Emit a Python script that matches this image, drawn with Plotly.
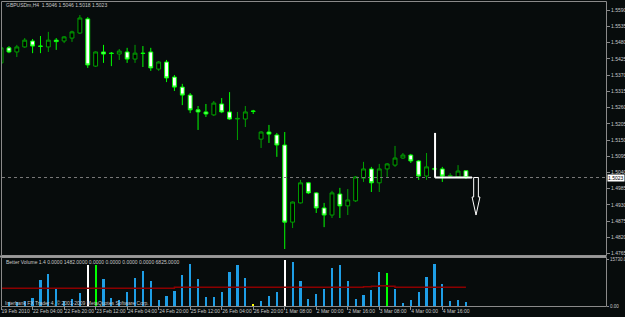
import plotly.graph_objects as go

# ---------------- data ----------------
bars = list(range(60))
opens = [1.5411, 1.5462, 1.5448, 1.5465, 1.5485, 1.5468, 1.5465, 1.5488, 1.5485, 1.5495,
         1.5512, 1.5560, 1.5400, 1.5448, 1.5444, 1.5441, 1.5448, 1.5424, 1.5444, 1.5448,
         1.5390, 1.5414, 1.5363, 1.5329, 1.5302, 1.5252, 1.5245, 1.5235, 1.5272, 1.5245,
         1.5221, 1.5221, 1.5248, 1.5153, 1.5177, 1.5167, 1.5133, 1.4872, 1.4937, 1.5005,
         1.4971, 1.4920, 1.4896, 1.4967, 1.4927, 1.4944, 1.5021, 1.5052, 1.5005, 1.5052,
         1.5065, 1.5089, 1.5099, 1.5079, 1.5028, 1.5052, 1.5052, 1.5028, 1.5025, 1.5046]
highs = [1.5472, 1.5468, 1.5472, 1.5495, 1.5492, 1.5502, 1.5516, 1.5495, 1.5502, 1.5520,
         1.5573, 1.5566, 1.5450, 1.5472, 1.5448, 1.5458, 1.5462, 1.5472, 1.5468, 1.5462,
         1.5417, 1.5421, 1.5370, 1.5340, 1.5309, 1.5265, 1.5272, 1.5282, 1.5292, 1.5312,
         1.5245, 1.5265, 1.5252, 1.5180, 1.5201, 1.5174, 1.5177, 1.4942, 1.5015, 1.5008,
         1.4974, 1.4937, 1.4978, 1.4988, 1.4984, 1.5028, 1.5076, 1.5059, 1.5069, 1.5072,
         1.5130, 1.5106, 1.5103, 1.5082, 1.5106, 1.5059, 1.5059, 1.5038, 1.5065, 1.5046]
lows = [1.5404, 1.5444, 1.5431, 1.5462, 1.5444, 1.5444, 1.5448, 1.5455, 1.5478, 1.5482,
        1.5509, 1.5394, 1.5397, 1.5411, 1.5400, 1.5421, 1.5411, 1.5411, 1.5397, 1.5384,
        1.5384, 1.5346, 1.5316, 1.5268, 1.5241, 1.5184, 1.5228, 1.5231, 1.5241, 1.5218,
        1.5150, 1.5194, 1.5238, 1.5123, 1.5140, 1.5093, 1.4781, 1.4852, 1.4935, 1.4967,
        1.4903, 1.4855, 1.4886, 1.4886, 1.4896, 1.4940, 1.5008, 1.4974, 1.4974, 1.5025,
        1.5059, 1.5086, 1.5072, 1.5015, 1.5015, 1.5045, 1.5008, 1.5025, 1.5021, 1.5018]
closes = [1.5462, 1.5448, 1.5465, 1.5488, 1.5468, 1.5467, 1.5488, 1.5483, 1.5499, 1.5516,
          1.5563, 1.5404, 1.5448, 1.5441, 1.5443, 1.5451, 1.5424, 1.5444, 1.5443, 1.5394,
          1.5414, 1.5360, 1.5329, 1.5302, 1.5252, 1.5245, 1.5238, 1.5275, 1.5245, 1.5221,
          1.5223, 1.5245, 1.5247, 1.5177, 1.5170, 1.5133, 1.4872, 1.4940, 1.5005, 1.4971,
          1.4920, 1.4896, 1.4971, 1.4927, 1.4947, 1.5025, 1.5052, 1.5005, 1.5052, 1.5069,
          1.5089, 1.5099, 1.5079, 1.5028, 1.5059, 1.5052, 1.5028, 1.5030, 1.5045, 1.5023]
volumes = [8892, 1500, 1482, 1600, 2850, 8892, 10944, 6042, 1710, 2394,
           4332, 14022, 14022, 9234, 2622, 2052, 4674, 9462, 11970, 8322,
           2052, 3534, 5130, 10602, 14250, 9234, 2964, 3192, 4674, 11514,
           13794, 9462, 684, 1710, 3306, 4674, 15730, 14934, 8550, 2394,
           3990, 5814, 12882, 13794, 8322, 2394, 3762, 5472, 11514, 11172,
           5700, 1140, 2052, 4674, 9690, 14250, 7410, 1710, 2052, 1482]
vol_kind = ["n"] * 60
vol_kind[11] = "climax"
vol_kind[36] = "climax"
vol_kind[12] = "churn"
vol_kind[49] = "churn"
vol_kind[32] = "low"
vol_ma = [6042, 6042, 6042, 6042, 6042, 6042, 6042, 6042, 6042, 6042,
          6042, 6042, 6042, 6042, 6042, 6042, 6042, 6042, 6042, 6042,
          6042, 6042, 6384, 6384, 6384, 6384, 6384, 6384, 6384, 6384,
          6384, 6384, 6384, 6384, 6384, 6384, 6384, 6384, 6384, 6384,
          6384, 6384, 6384, 6384, 6384, 6384, 6500, 6700, 6840, 6700,
          6384, 6384, 6384, 6384, 6384, 6384, 6384, 6384, 6384, 6384]
tick_bars = [0, 4, 8, 12, 16, 20, 24, 28, 32, 36, 40, 44, 48, 52, 56]
tick_labels = ["19 Feb 2010", "22 Feb 04:00", "22 Feb 20:00", "23 Feb 12:00", "24 Feb 04:00",
               "24 Feb 20:00", "25 Feb 12:00", "26 Feb 04:00", "26 Feb 20:00", "1 Mar 08:00",
               "2 Mar 00:00", "2 Mar 16:00", "3 Mar 08:00", "4 Mar 00:00", "4 Mar 16:00"]
price_ticks = [1.5590, 1.5535, 1.5480, 1.5425, 1.5370, 1.5315, 1.5260, 1.5205,
               1.5150, 1.5095, 1.5040, 1.4985, 1.4930, 1.4875, 1.4820, 1.4765]
last_price = 1.5023
vol_max_label = 15730.0
# drawn objects (user drawing on the chart)
mark_top = 1.5174
mark_bar = 55.08
mark_end_bar = 59.77
arrow_bar = 60.28
arrow_neck = 1.4957
arrow_tip = 1.4896

# ---------------- style ----------------
W, H = 625, 317
BG = "#070c0c"
GRID = "#8a8a8a"
TXT = "#c8c8c8"
FONT = "Liberation Sans"
vcol = {"n": "#1e9ee6", "climax": "#ffffff", "churn": "#00ff00", "low": "#ffff00"}

def py(p):  # pixel row -> paper
    return 1 - p / H

def px(p):
    return p / W

fig = go.Figure()

fig.add_trace(go.Candlestick(
    x=bars, open=opens, high=highs, low=lows, close=closes,
    increasing=dict(line=dict(color="#00a000", width=1), fillcolor="#000000"),
    decreasing=dict(line=dict(color="#00ff00", width=1), fillcolor="#ffffff"),
    whiskerwidth=0, xaxis="x", yaxis="y", showlegend=False, hoverinfo="skip"))

fig.add_trace(go.Bar(
    x=bars, y=volumes, marker=dict(color=[vcol[k] for k in vol_kind], line=dict(width=0)),
    width=0.28, xaxis="x2", yaxis="y2", showlegend=False, hoverinfo="skip"))

fig.add_trace(go.Scatter(
    x=bars, y=vol_ma, mode="lines", line=dict(color="#8b0000", width=1.5, shape="hv"),
    xaxis="x2", yaxis="y2", showlegend=False, hoverinfo="skip"))

bar_px = 7.88
x_range = [-0.01, (606 - 1) / bar_px]
p_top = 1.56239 - 0.0003385 * 1
p_bot = 1.56239 - 0.0003385 * 255

fig.update_layout(
    width=W, height=H, margin=dict(l=0, r=0, t=0, b=0, autoexpand=False),
    paper_bgcolor=BG, plot_bgcolor=BG,
    font=dict(family=FONT, size=5, color=TXT),
    bargap=0,
    xaxis=dict(domain=[px(1), px(606)], range=x_range, showticklabels=False, showgrid=False,
               zeroline=False, rangeslider=dict(visible=False), fixedrange=True, anchor="y",
               automargin=False),
    yaxis=dict(domain=[py(255), py(1)], range=[p_bot, p_top], side="right",
               tickvals=price_ticks, ticktext=[f"{v:.4f}" for v in price_ticks],
               ticks="outside", ticklen=3, tickcolor=GRID, showgrid=False, zeroline=False,
               tickfont=dict(size=5, color=TXT), anchor="x", automargin=False),
    xaxis2=dict(domain=[px(1), px(606)], range=x_range, showgrid=False, zeroline=False,
                tickvals=tick_bars, ticktext=tick_labels, ticks="outside", ticklen=3,
                tickcolor=GRID, ticklabelposition="outside right", tickangle=0,
                tickfont=dict(size=5, color=TXT), anchor="y2", automargin=False),
    yaxis2=dict(domain=[py(306), py(258)], range=[0, 16237], side="right",
                tickvals=[vol_max_label, 0], ticktext=[f"{vol_max_label:.1f}", "0.00"],
                ticks="outside", ticklen=2, tickcolor=GRID, showgrid=False, zeroline=False,
                tickfont=dict(size=4.5, color=TXT), anchor="x2", automargin=False),
)

shapes = []
# panel frames
shapes.append(dict(type="rect", xref="paper", yref="paper", x0=px(1.5), x1=px(606.5),
                   y0=py(255.5), y1=py(1.5), line=dict(color=GRID, width=1)))
shapes.append(dict(type="rect", xref="paper", yref="paper", x0=px(1.5), x1=px(606.5),
                   y0=py(306.5), y1=py(257.5), line=dict(color=GRID, width=1)))
shapes.append(dict(type="line", xref="paper", yref="paper", x0=0, x1=px(606.5),
                   y0=py(256.5), y1=py(256.5), line=dict(color="#9a9a9a", width=2)))
# current price line
shapes.append(dict(type="line", xref="paper", yref="y", x0=px(2), x1=px(606),
                   y0=last_price, y1=last_price, line=dict(color="#7a7a7a", width=1, dash="dot")))
# drawn L-shape
shapes.append(dict(type="line", xref="x", yref="y", x0=mark_bar, x1=mark_bar,
                   y0=mark_top, y1=last_price, line=dict(color="#ffffff", width=2)))
shapes.append(dict(type="line", xref="x", yref="y", x0=mark_bar, x1=mark_end_bar,
                   y0=last_price, y1=last_price, line=dict(color="#ffffff", width=2)))
# drawn down arrow (outline)
sw = 0.3
hw = 0.5
path = (f"M {arrow_bar - sw},{last_price} L {arrow_bar - sw},{arrow_neck} "
        f"L {arrow_bar - hw},{arrow_neck} L {arrow_bar},{arrow_tip} "
        f"L {arrow_bar + hw},{arrow_neck} L {arrow_bar + sw},{arrow_neck} "
        f"L {arrow_bar + sw},{last_price} Z")
shapes.append(dict(type="path", xref="x", yref="y", path=path,
                   line=dict(color="#ffffff", width=1), fillcolor=BG))
fig.update_layout(shapes=shapes)

ann = []
ann.append(dict(xref="paper", yref="paper", x=px(4), y=py(5), xanchor="left", yanchor="middle",
                text="GBPUSDm,H4  1.5046 1.5046 1.5018 1.5023", showarrow=False,
                font=dict(size=5, color=TXT)))
ann.append(dict(xref="paper", yref="paper", x=px(4), y=py(261.5), xanchor="left", yanchor="middle",
                text="Better Volume 1.4 0.0000 1482.0000 0.0000 0.0000 0.0000 0.0000 6825.0000",
                showarrow=False, font=dict(size=5, color=TXT)))
ann.append(dict(xref="paper", yref="paper", x=px(3), y=py(303), xanchor="left", yanchor="middle",
                text="Interbank FX Trader 4, \u00a9 2001-2009 MetaQuotes Software Corp.",
                showarrow=False, font=dict(size=5, color=TXT)))
ann.append(dict(xref="paper", yref="y", x=px(607), y=last_price, xanchor="left", yanchor="middle",
                text=f"{last_price:.4f}", showarrow=False, bgcolor="#ffffff",
                font=dict(size=5, color="#000000"), borderpad=0))
fig.update_layout(annotations=ann)

fig.write_html("out.html")
